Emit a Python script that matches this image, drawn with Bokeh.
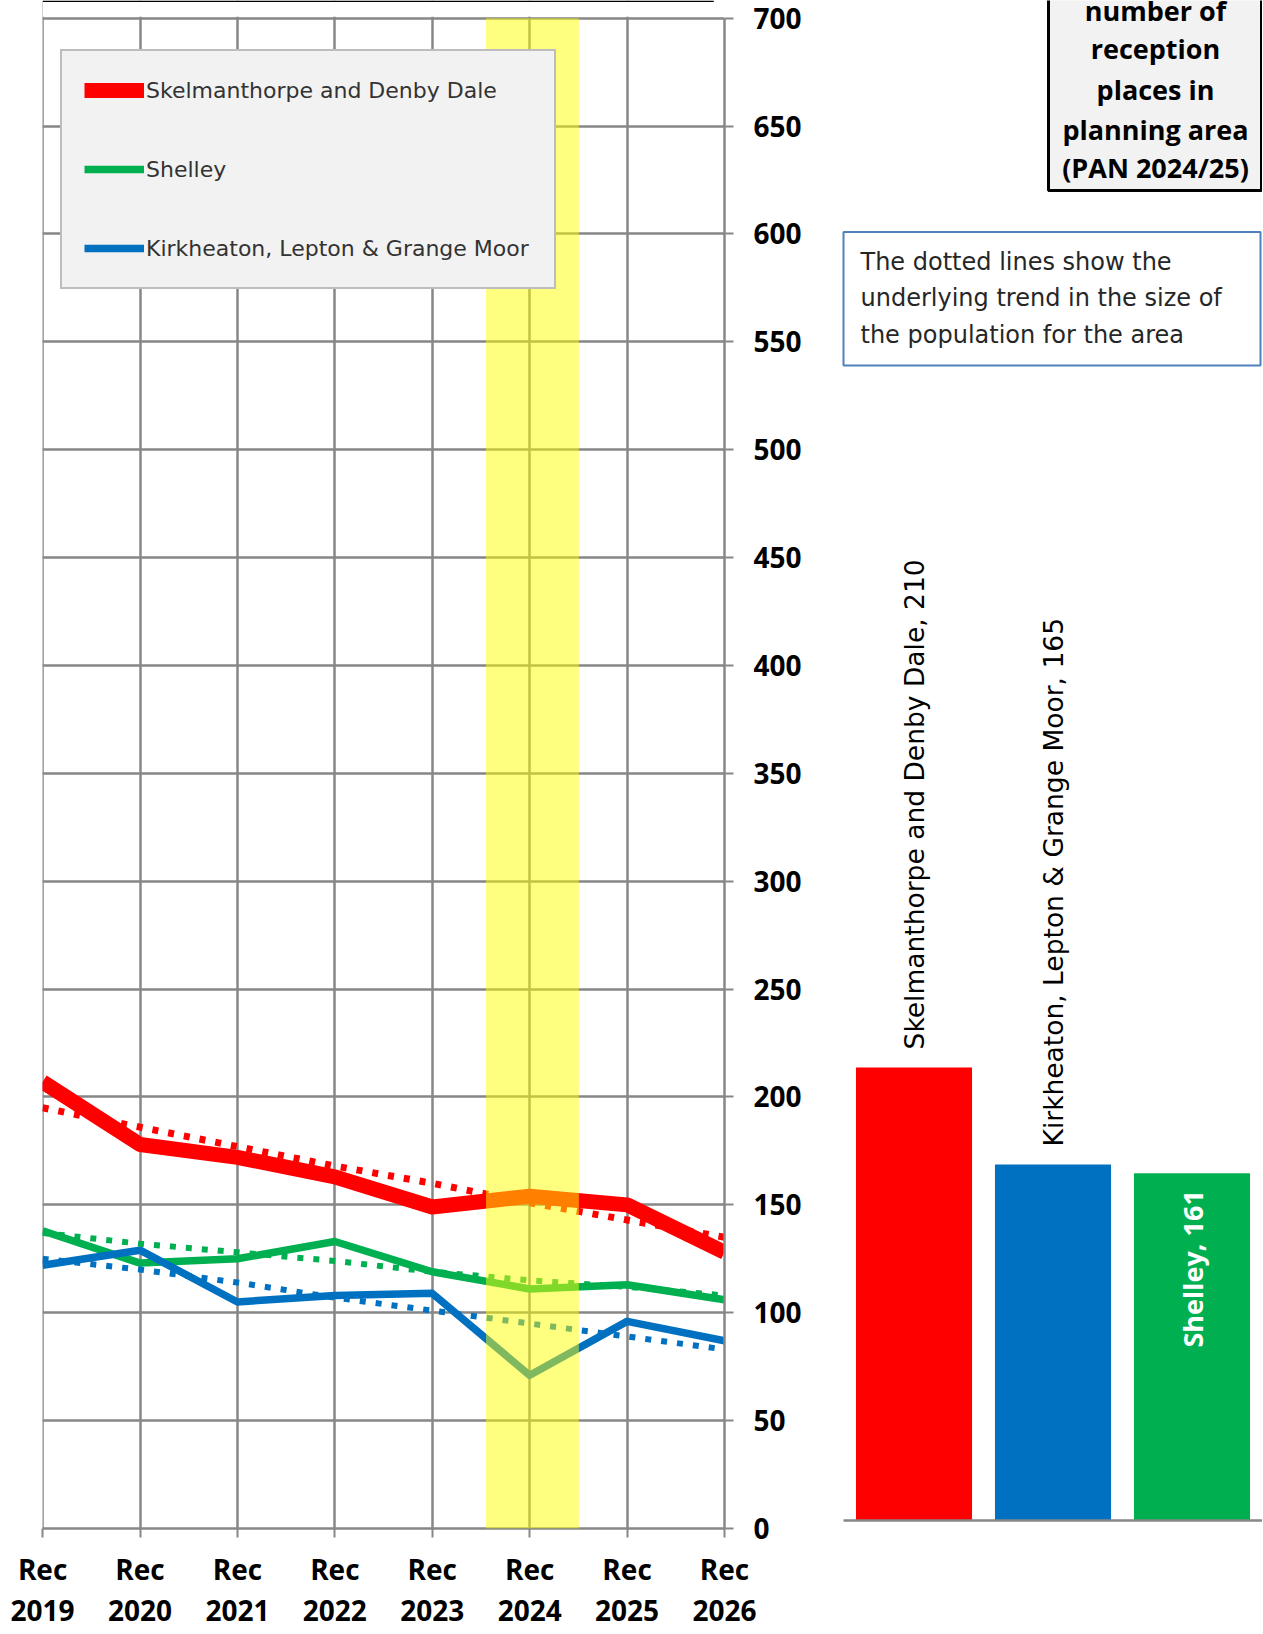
import numpy as np
from bokeh.plotting import figure
from bokeh.models import (Range1d, FixedTicker, BoxAnnotation, Legend, LegendItem)
from bokeh.layouts import row
from bokeh.embed import file_html
from bokeh.resources import INLINE
from bokeh.core.properties import value

# ---------------- data ----------------
years = ["2019", "2020", "2021", "2022", "2023", "2024", "2025", "2026"]
x_tick_labels = ["Rec\n" + y for y in years]
series_names = ["Skelmanthorpe and Denby Dale", "Shelley", "Kirkheaton, Lepton & Grange Moor"]
skel = [207, 178, 172, 163, 149, 154, 150, 128]
skel_trend = [195, 186, 177, 168, 160, 151, 143, 135]
shelley = [138, 123, 125, 133, 119, 111, 113, 106]
shelley_trend = [137, 132, 128, 124, 119, 115, 112, 108]
kirk = [122, 129, 105, 108, 109, 71, 96, 87]
kirk_trend = [125, 120, 114, 107, 101, 95, 89, 83]
y_ticks = list(range(0, 701, 50))
y_max = 700
highlight_year = "2024"

bar_names = ["Skelmanthorpe and Denby Dale", "Kirkheaton, Lepton & Grange Moor", "Shelley"]
bar_values = [210, 165, 161]
bar_label_inside = [False, False, True]

note_lines = ["The dotted lines show the", "underlying trend in the size of", "the population for the area"]
pan_lines = ["number of", "reception", "places in", "planning area", "(PAN 2024/25)"]

# ---------------- style ----------------
RED, GREEN, BLUE = "#ff0000", "#00b050", "#0070c0"
GRID = "#878787"
BOLD_NAME = "Open Sans"
REG_NAME = "DejaVu Sans"
BOLD = value(BOLD_NAME)
REG = value(REG_NAME)

H = 1634
FRAME_BOTTOM = 1528            # page px of the 0 line
TOP_GAP = 17.7                 # page px of the 700 line
PXY = (FRAME_BOTTOM - TOP_GAP) / y_max
Y_END = y_max + TOP_GAP / PXY
xs = list(range(len(years)))

# ---------------- left: line chart ----------------
W1 = 808
p = figure(width=W1, height=H, x_range=Range1d(-0.001, len(years) - 1), y_range=Range1d(0, Y_END),
           output_backend="svg", toolbar_location=None, y_axis_location="right",
           min_border_left=42, min_border_right=W1 - 724, min_border_top=0,
           min_border_bottom=H - FRAME_BOTTOM)
p.background_fill_color = "white"
p.border_fill_color = "white"
p.outline_line_color = None

xt = FixedTicker(ticks=xs)
yt = FixedTicker(ticks=y_ticks)
p.xaxis.ticker = xt
p.xgrid.ticker = xt
p.yaxis.ticker = yt
p.ygrid.ticker = yt
p.yaxis.bounds = (0, y_max)
p.xaxis.major_label_overrides = {i: lab for i, lab in enumerate(x_tick_labels)}
for ax in (p.xaxis, p.yaxis):
    ax.axis_line_color = GRID
    ax.axis_line_width = 2.5
    ax.major_tick_line_color = GRID
    ax.major_tick_line_width = 2
    ax.major_tick_in = 0
    ax.major_tick_out = 9
    ax.minor_tick_line_color = None
    ax.major_label_text_font = BOLD_NAME
    ax.major_label_text_font_style = "bold"
    ax.major_label_text_font_size = "28px"
    ax.major_label_text_color = "#000000"
p.xaxis.major_label_standoff = 12
p.xaxis.major_label_text_line_height = 1.1
p.yaxis.major_label_standoff = 20
for g in (p.xgrid, p.ygrid):
    g.grid_line_color = GRID
    g.grid_line_width = 2.5

# blank strip above the 700 line, and the thin black rule at the very top
p.quad(left=[-0.001], right=[len(years) - 1], bottom=[y_max + 1.4 / PXY], top=[Y_END],
       fill_color="white", line_color=None)
p.quad(left=[0.003], right=[6.89], bottom=[Y_END - 1.6 / PXY], top=[Y_END],
       fill_color="black", line_color=None)

r_sh = p.line(xs, shelley, line_color=GREEN, line_width=7.5, line_join="round")
r_ki = p.line(xs, kirk, line_color=BLUE, line_width=7.5, line_join="round")
r_sk = p.line(xs, skel, line_color=RED, line_width=15, line_join="round")
p.line(xs, shelley_trend, line_color=GREEN, line_width=6, line_dash="6 10")
p.line(xs, kirk_trend, line_color=BLUE, line_width=6, line_dash="6 10")
p.line(xs, skel_trend, line_color=RED, line_width=7, line_dash="6 10")

legend = Legend(items=[LegendItem(label=series_names[0], renderers=[r_sk]),
                       LegendItem(label=series_names[1], renderers=[r_sh]),
                       LegendItem(label=series_names[2], renderers=[r_ki])],
                location=(18, 1239), padding=22, spacing=45, margin=0,
                glyph_height=34, glyph_width=60, label_height=34, label_width=386,
                label_standoff=2, background_fill_color="#f2f2f2", background_fill_alpha=1,
                border_line_color=GRID, border_line_width=2.5,
                label_text_font=REG_NAME, label_text_font_size="22px", label_text_color="#333333")
p.add_layout(legend)

hi = years.index(highlight_year)
band = BoxAnnotation(left=hi - 0.448, right=hi + 0.505, bottom=0, top=y_max,
                     fill_color="#ffff00", fill_alpha=0.5, line_color=None, level="overlay")
p.add_layout(band)

# ---------------- right: bars + notes ----------------
W2 = 1262 - W1
PXX = 139.0                    # px per bar slot
X0 = -(913.5 - W1) / PXX
Y0 = -(FRAME_BOTTOM - 1520) / PXY
Y1 = Y0 + FRAME_BOTTOM / PXY

def fx(px):                    # page x -> data x
    return X0 + (px - W1) / PXX

def fy(py):                    # page y -> data y
    return Y1 - py / PXY

p2 = figure(width=W2, height=H, x_range=Range1d(X0, X0 + W2 / PXX), y_range=Range1d(Y0, Y1),
            output_backend="svg", toolbar_location=None, min_border_left=0, min_border_right=0,
            min_border_top=0, min_border_bottom=H - FRAME_BOTTOM,
            x_axis_location=None, y_axis_location=None)
p2.grid.visible = False
p2.outline_line_color = None
p2.background_fill_color = "white"
p2.border_fill_color = "white"

bx = list(range(len(bar_names)))
bar_colors = [RED, BLUE, GREEN]
p2.vbar(x=bx, top=bar_values, bottom=0, width=0.835, fill_color=bar_colors, line_color=None)
p2.segment(x0=[fx(843)], y0=[0], x1=[fx(1262)], y1=[0], line_color=GRID, line_width=2.5)

labels = [f"{n}, {v}" for n, v in zip(bar_names, bar_values)]
out_i = [i for i in bx if not bar_label_inside[i]]
in_i = [i for i in bx if bar_label_inside[i]]
p2.text(x=[bx[i] for i in out_i], y=[bar_values[i] for i in out_i], text=[labels[i] for i in out_i],
        angle=np.pi / 2, text_align="left", text_baseline="middle", y_offset=-18,
        text_font=REG, text_font_size="26.5px", text_color="#000000")
p2.text(x=[bx[i] for i in in_i], y=[bar_values[i] for i in in_i], text=[labels[i] for i in in_i],
        angle=np.pi / 2, text_align="right", text_baseline="middle", y_offset=17,
        text_font=BOLD, text_font_style="bold", text_font_size="27px", text_color="#ffffff")

# note box
p2.quad(left=[fx(843)], right=[fx(1260)], top=[fy(231.5)], bottom=[fy(365)],
        fill_color="white", line_color="#4f81bd", line_width=2)
p2.text(x=[fx(860)] * len(note_lines), y=[fy(261), fy(297), fy(334)], text=note_lines,
        text_align="left", text_baseline="middle", text_font=REG, text_font_size="24px",
        text_color="#262626")

# PAN box
p2.quad(left=[fx(1048)], right=[fx(1261)], top=[fy(-10)], bottom=[fy(190)],
        fill_color="#f2f2f2", line_color="black", line_width=3)
p2.text(x=[fx(1155)] * len(pan_lines), y=[fy(10), fy(48), fy(88.5), fy(128.5), fy(167)], text=pan_lines,
        text_align="center", text_baseline="middle", text_font=BOLD, text_font_style="bold",
        text_font_size="27px", text_color="#000000")

layout = row(p, p2)
open("out.html", "w").write(file_html(layout, INLINE))
